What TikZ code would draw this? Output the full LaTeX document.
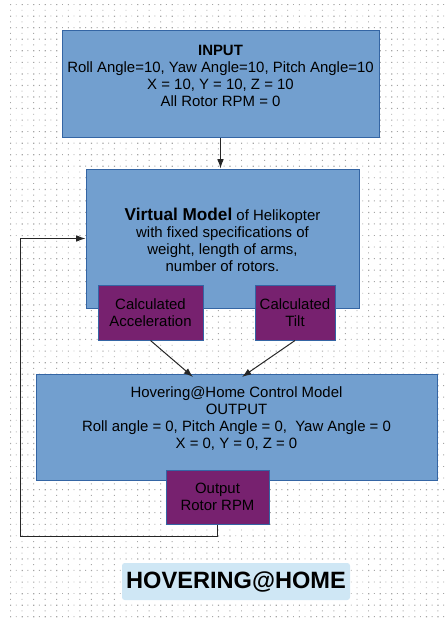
\documentclass[tikz,border=0pt]{standalone}
\usepackage{fontspec}
\setmainfont{Liberation Sans}
\usepackage{tikz}
\usetikzlibrary{
  arrows.meta
}
\definecolor{boxFill}{HTML}{729FCF}
\definecolor{boxEdge}{HTML}{3465A4}
\definecolor{calcFill}{HTML}{77216F}
\definecolor{titleFill}{HTML}{CFE7F5}
\colorlet{gridDot}{black!35}
\colorlet{wire}{black!85}

\begin{document}
\begin{tikzpicture}[
  x=0.75pt, y=-0.75pt,
  every node/.style={
    font=\fontsize{11.2}{12.75}\selectfont,
    align=center,
    inner sep=0pt,
  },
  modelbox/.style={
    draw=boxEdge,
    fill=boxFill,
    line width=0.75pt,
  },
  calcbox/.style={
    draw=boxEdge,
    fill=calcFill,
    line width=0.75pt,
  },
  wirearrow/.style={
    draw=wire,
    line width=0.75pt,
    -{Latex[length=7pt,width=5pt]}
  }
]
\useasboundingbox (0,0) rectangle (446,621);
% dotted page background
\fill[gridDot]
  \foreach \i in {0,...,38} {
    \foreach \j in {0,...,53} {
      (10+\i*11.55,4+\j*11.55) rectangle ++(1.2,1.2)
      (15.8+\i*11.55,4+\j*11.55) rectangle ++(0.9,0.9)
      (10+\i*11.55,9.8+\j*11.55) rectangle ++(0.9,0.9)
    }
  };

% input
\node[modelbox,minimum width=317*0.75pt,minimum height=107*0.75pt] (inputBox) at (220.5,83.5) {};
\node (inputText) at (220.5,75.5) {\textbf{INPUT}\\
  Roll Angle=10, Yaw Angle=10, Pitch Angle=10\\
  X = 10, Y = 10, Z = 10\\
  All Rotor RPM = 0};

% virtual model
\node[modelbox,minimum width=273*0.75pt,minimum height=139*0.75pt] (vmBox) at (222.5,238.5) {};
\node (vmText) at (222.5,240) {{\fontsize{12.9}{12.75}\selectfont\textbf{Virtual Model}} of Helikopter\\
  with fixed specifications of\\
  weight, length of arms,\\
  number of rotors.};
\node[calcbox,minimum width=105*0.75pt,minimum height=55*0.75pt] (accelBox) at (150.5,312.5) {Calculated\\Acceleration};
\node[calcbox,minimum width=80*0.75pt,minimum height=55*0.75pt] (tiltBox) at (295,312.5) {Calculated\\Tilt};

% control model
\node[modelbox,minimum width=401*0.75pt,minimum height=106*0.75pt] (ctrlBox) at (236.5,427) {};
\node (ctrlText) at (236.5,419) {Hovering@Home Control Model\\
  OUTPUT\\
  Roll angle = 0, Pitch Angle = 0,\ \ Yaw Angle = 0\\
  X = 0, Y = 0, Z = 0};
\node[calcbox,minimum width=103*0.75pt,minimum height=54*0.75pt] (rpmBox) at (217.5,497) {Output\\Rotor RPM};

% title
\node[fill=titleFill,rounded corners=2pt,minimum width=228*0.75pt,minimum height=37*0.75pt,
  font=\fontsize{17.7}{18}\selectfont\bfseries] (titleBox) at (236,581.5) {HOVERING@HOME};

% connectors
\coordinate (ctrlInA) at (193,377);
\coordinate (ctrlInB) at (242,377);
\coordinate (loopCorner) at (20,536);
\draw[wirearrow] (inputBox.south) -- (inputBox.south |- vmBox.north);
\draw[wirearrow] (accelBox.south) -- (ctrlInA);
\draw[wirearrow] (tiltBox.south) -- (ctrlInB);
\draw[wirearrow] (rpmBox.south) |- (loopCorner) |- (vmBox.west);
\end{tikzpicture}
\end{document}
